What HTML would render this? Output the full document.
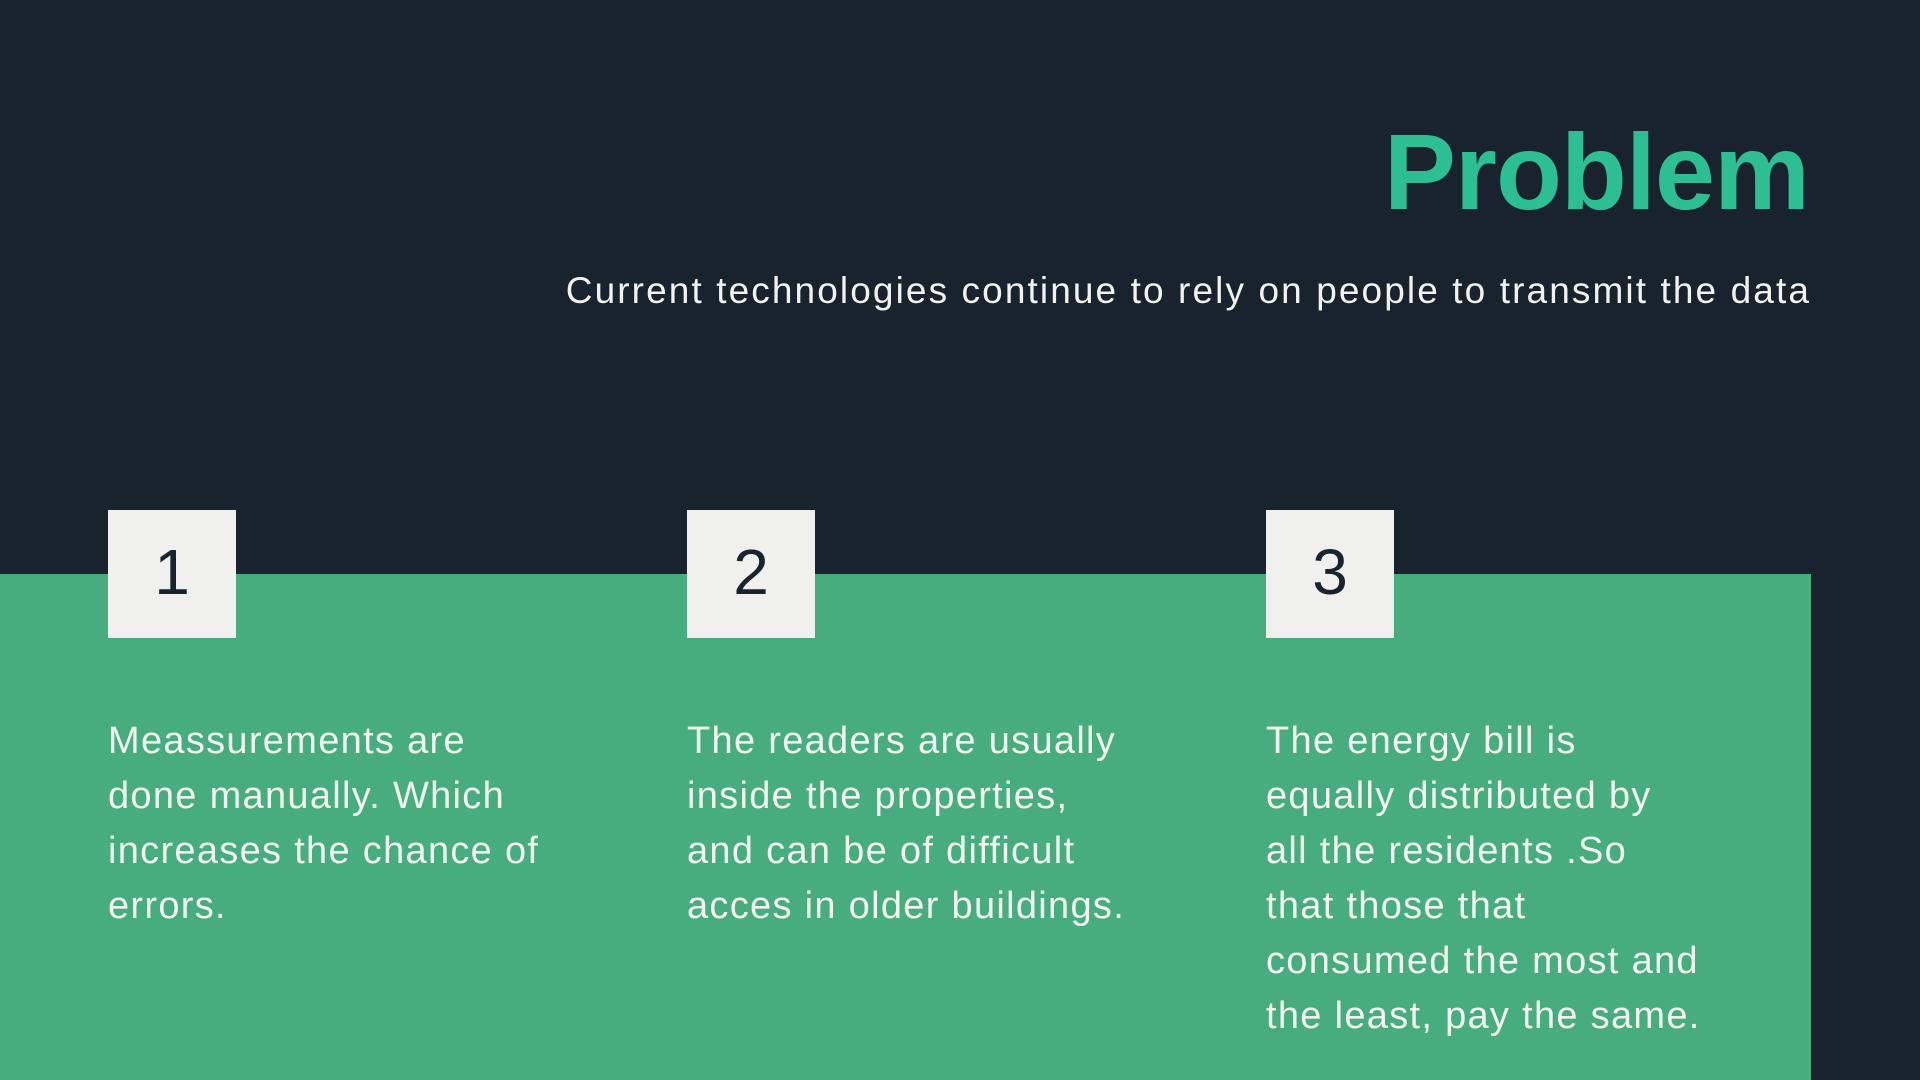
<!DOCTYPE html>
<html>
<head>
<meta charset="utf-8">
<style>
  html, body { margin:0; padding:0; }
  body { width:1920px; height:1080px; background:#18232d; position:relative; overflow:hidden; font-family:"Liberation Sans", sans-serif; }
  .title { position:absolute; right:111px; top:118px; font-size:108px; line-height:108px; font-weight:bold; color:#2dbf93; letter-spacing:-1px; }
  .subtitle { position:absolute; right:109px; top:272px; font-size:37px; line-height:37px; color:#f2f2f0; white-space:nowrap; letter-spacing:2.1px; }
  .panel { position:absolute; left:0; top:574px; width:1811px; height:506px; background:#47ad7e; }
  .box { position:absolute; top:510px; width:128px; height:128px; background:#f0f0ee; color:#18232d; font-size:64px; line-height:124px; text-align:center; }
  .text { position:absolute; top:714px; font-size:38px; line-height:55px; color:#f2f5f0; white-space:nowrap; letter-spacing:1.3px; }
</style>
</head>
<body>
  <div class="title">Problem</div>
  <div class="subtitle">Current technologies continue to rely on people to transmit the data</div>
  <div class="panel"></div>

  <div class="box" style="left:108px">1</div>
  <div class="box" style="left:687px">2</div>
  <div class="box" style="left:1266px">3</div>

  <div class="text" style="left:108px">Meassurements are<br>done manually. Which<br>increases the chance of<br>errors.</div>
  <div class="text" style="left:687px">The readers are usually<br>inside the properties,<br>and can be of difficult<br>acces in older buildings.</div>
  <div class="text" style="left:1266px">The energy bill is<br>equally distributed by<br>all the residents .So<br>that those that<br>consumed the most and<br>the least, pay the same.</div>
</body>
</html>
